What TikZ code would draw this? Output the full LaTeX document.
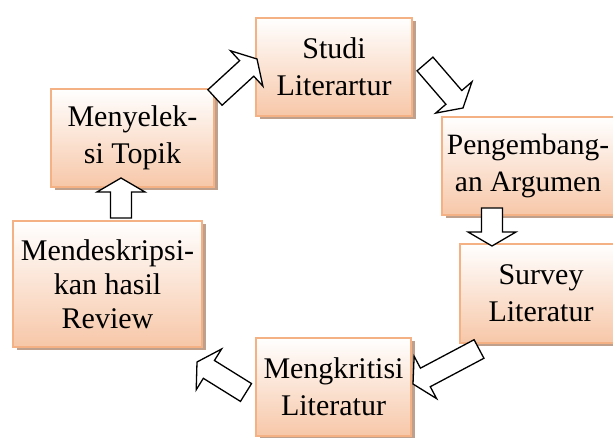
\documentclass[tikz,border=0pt]{standalone}
\usepackage{fontspec}
\setmainfont{Liberation Serif}
\usetikzlibrary{calc,shadows}
\definecolor{boxborder}{RGB}{244,177,131}
\definecolor{boxfill}{RGB}{247,199,168}
\definecolor{boxshadow}{RGB}{190,160,140}
\newcommand\arrhead{14pt}
\newcommand\arrshaft{10.5pt}
\newcommand\arrwing{24pt}
\newcommand\blkarrow[2]{%
  \coordinate (#1-n) at ($(#2)!\arrhead!(#1)$);
  \draw[blockarrow] ($(#1)!\arrshaft!90:(#2)$) -- ($(#1-n)!\arrshaft!-90:(#1)$)
    -- ($(#1-n)!\arrwing!-90:(#1)$) -- (#2) -- ($(#1-n)!\arrwing!90:(#1)$)
    -- ($(#1-n)!\arrshaft!90:(#1)$) -- ($(#1)!\arrshaft!-90:(#2)$) -- cycle;
}
\tikzset{
  stagefont/.style={align=center, inner sep=0pt, font=\fontsize{30}{37}\selectfont},
  stage/.style={stagefont, draw=boxborder, line width=1.5pt, top color=white, bottom color=boxfill,
    drop shadow={shadow xshift=3.5pt, shadow yshift=-3.5pt, fill=boxshadow, opacity=1}},
  blockarrow/.style={draw=black, line width=1.3pt, fill=white, line join=miter}
}
\begin{document}
\begin{tikzpicture}[x=1pt,y=1pt]
\useasboundingbox (0,0) rectangle (613,438);
\clip (0,0) rectangle (613,438);
\node[stage, minimum width=156pt, minimum height=98pt] (studi) at (334,371) {Studi\\Literartur};
\node[stage, minimum width=181pt, minimum height=98pt] (argumenbox) at (532.5,272) {};
\node[stagefont, font=\fontsize{29.5}{37}\selectfont] (argumen) at (528,272) {Pengembang-\\an Argumen};
\node[stage, minimum width=162pt, minimum height=99pt] (survey) at (541,144.5) {Survey\\Literatur};
\node[stage, minimum width=155pt, minimum height=98pt] (kritik) at (333.5,51) {Mengkritisi\\Literatur};
\node[stage, minimum width=189pt, minimum height=126pt, font=\fontsize{30}{34}\selectfont] (deskripsi) at (107.5,154) {Mendeskripsi-\\kan hasil\\Review};
\node[stage, minimum width=163pt, minimum height=98pt] (topik) at (132.5,300) {Menyelek-\\si Topik};
\coordinate (a1t) at (215,340.5); \coordinate (a1h) at (257,379);
\coordinate (a2t) at (425,374);   \coordinate (a2h) at (463,330);
\coordinate (a3t) at (492,230);   \coordinate (a3h) at (492,192);
\coordinate (a4t) at (479,89);    \coordinate (a4h) at (413,54);
\coordinate (a5t) at (246,45.5);  \coordinate (a5h) at (197,76);
\coordinate (a6t) at (121,220);   \coordinate (a6h) at (121,260);
\blkarrow{a1t}{a1h}
\blkarrow{a2t}{a2h}
\blkarrow{a3t}{a3h}
\blkarrow{a4t}{a4h}
\blkarrow{a5t}{a5h}
\blkarrow{a6t}{a6h}
\end{tikzpicture}
\end{document}
